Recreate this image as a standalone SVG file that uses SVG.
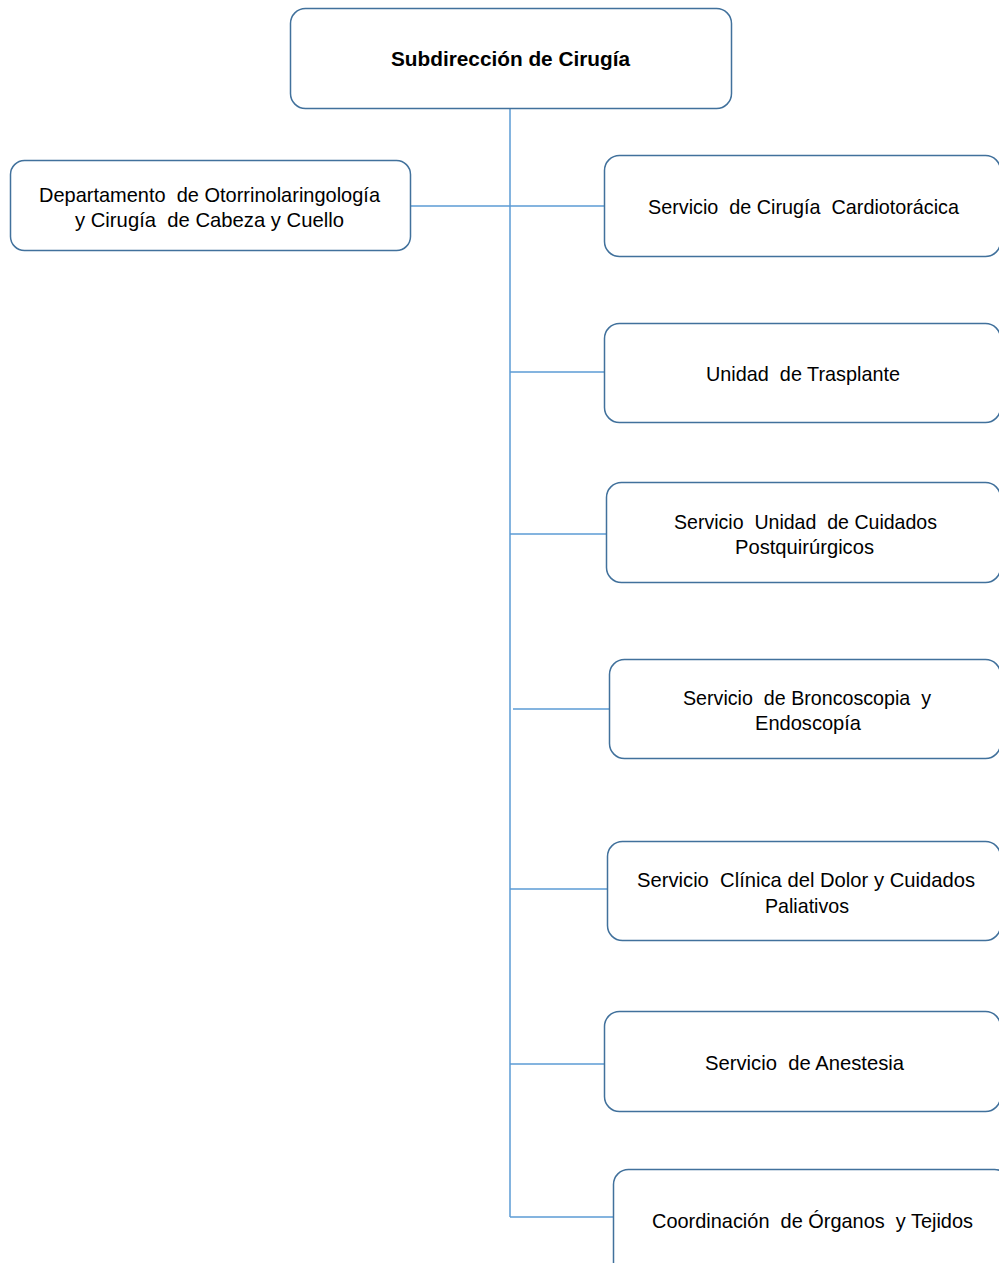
<svg xmlns="http://www.w3.org/2000/svg" width="999" height="1263" viewBox="0 0 999 1263">
<style>
.box{fill:#fff;stroke:#41719c;stroke-width:1.5}
.ln{stroke:#5b9bd5;stroke-width:1.5;fill:none}
text{font-family:"Liberation Sans",Arial,sans-serif;font-size:21px;fill:#000;text-anchor:middle;white-space:pre}
.b{font-weight:bold;font-size:21px}
</style>
<rect width="999" height="1263" fill="#fff"/>
<g id="connectors">
<line class="ln" x1="510" y1="108" x2="510" y2="1217"/>
<line class="ln" x1="410" y1="206" x2="604" y2="206"/>
<line class="ln" x1="510" y1="372" x2="604" y2="372"/>
<line class="ln" x1="510" y1="534" x2="606" y2="534"/>
<line class="ln" x1="513" y1="709" x2="609" y2="709"/>
<line class="ln" x1="510" y1="889" x2="607" y2="889"/>
<line class="ln" x1="510" y1="1064" x2="604" y2="1064"/>
<line class="ln" x1="510" y1="1217" x2="613" y2="1217"/>
</g>
<g id="n0"><rect class="box" x="290.5" y="8.5" width="441" height="100" rx="15"/><text class="b" x="510.5" y="66" textLength="239" lengthAdjust="spacingAndGlyphs">Subdirección de Cirugía</text></g>
<g id="n1"><rect class="box" x="10.5" y="160.5" width="400" height="90" rx="14"/><text x="209.5" y="202" textLength="341" lengthAdjust="spacingAndGlyphs">Departamento  de Otorrinolaringología</text><text x="209.5" y="227" textLength="269" lengthAdjust="spacingAndGlyphs">y Cirugía  de Cabeza y Cuello</text></g>
<g id="n2"><rect class="box" x="604.5" y="155.5" width="396" height="101" rx="15"/><text x="803.5" y="214" textLength="311" lengthAdjust="spacingAndGlyphs">Servicio  de Cirugía  Cardiotorácica</text></g>
<g id="n3"><rect class="box" x="604.5" y="323.5" width="396" height="99" rx="15"/><text x="803" y="381" textLength="194" lengthAdjust="spacingAndGlyphs">Unidad  de Trasplante</text></g>
<g id="n4"><rect class="box" x="606.5" y="482.5" width="394" height="100" rx="15"/><text x="805.5" y="529" textLength="263" lengthAdjust="spacingAndGlyphs">Servicio  Unidad  de Cuidados</text><text x="804.5" y="554" textLength="139" lengthAdjust="spacingAndGlyphs">Postquirúrgicos</text></g>
<g id="n5"><rect class="box" x="609.5" y="659.5" width="391" height="99" rx="15"/><text x="807" y="705" textLength="248" lengthAdjust="spacingAndGlyphs">Servicio  de Broncoscopia  y</text><text x="808" y="730" textLength="106" lengthAdjust="spacingAndGlyphs">Endoscopía</text></g>
<g id="n6"><rect class="box" x="607.5" y="841.5" width="393" height="99" rx="15"/><text x="806" y="887" textLength="338" lengthAdjust="spacingAndGlyphs">Servicio  Clínica del Dolor y Cuidados</text><text x="807" y="913" textLength="84" lengthAdjust="spacingAndGlyphs">Paliativos</text></g>
<g id="n7"><rect class="box" x="604.5" y="1011.5" width="396" height="100" rx="15"/><text x="804.5" y="1070" textLength="199" lengthAdjust="spacingAndGlyphs">Servicio  de Anestesia</text></g>
<g id="n8"><rect class="box" x="613.5" y="1169.5" width="396" height="110" rx="15"/><text x="812.5" y="1228" textLength="321" lengthAdjust="spacingAndGlyphs">Coordinación  de Órganos  y Tejidos</text></g>
</svg>
